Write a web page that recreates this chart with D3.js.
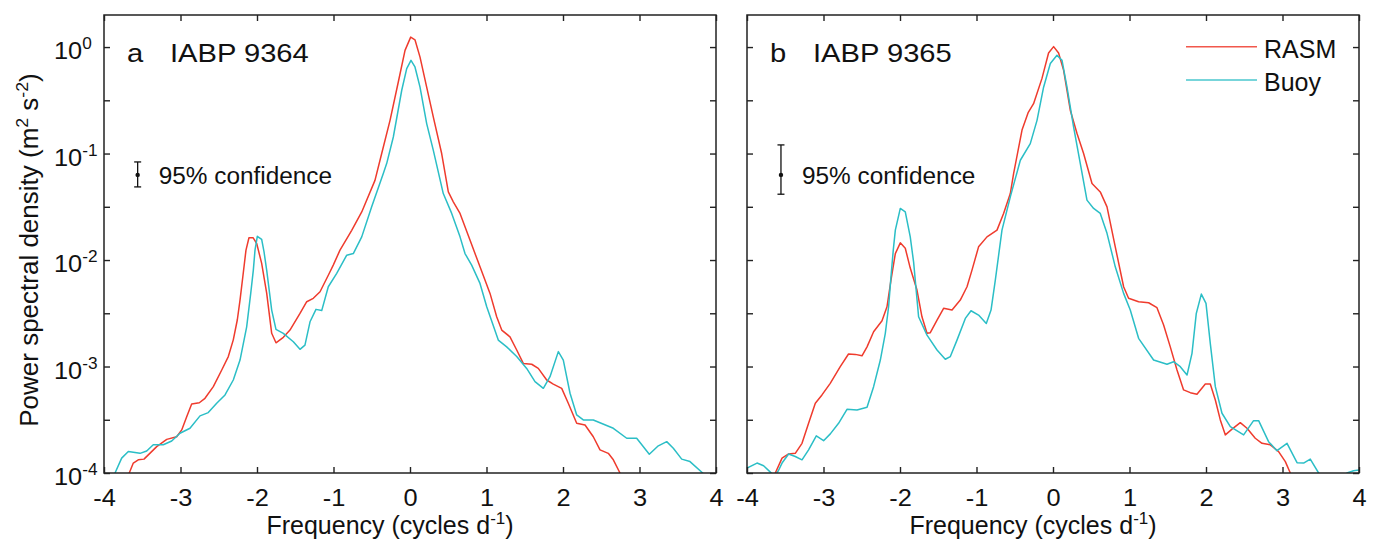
<!DOCTYPE html>
<html><head><meta charset="utf-8">
<script src="https://cdn.jsdelivr.net/npm/d3@7"></script>
<style>
body{margin:0;background:#fff}
text{font-family:"Liberation Sans",Arial,Helvetica,sans-serif;fill:#111}
</style>
</head><body>
<svg id="chart" width="1376" height="552"></svg>
<script>
// ---------------- data (frequency in cycles/day, PSD in m^2 s^-2) ----------------
const freqTicks = [-4, -3, -2, -1, 0, 1, 2, 3, 4];
const decadeExps = [0, -1, -2, -3, -4];
const psdTickValues = [1e-4, 3.162e-4, 1e-3, 3.162e-3, 1e-2, 3.162e-2, 1e-1, 3.162e-1, 1];
const seriesNames = ["RASM", "Buoy"];
const panelLetters = ["a", "b"];
const panelTitles = ["IABP 9364", "IABP 9365"];
const confidenceLabel = "95% confidence";

const rasmA = [[-3.72,9e-5],[-3.67,1.0e-4],[-3.617,1.24e-4],[-3.552,1.33e-4],[-3.477,1.35e-4],[-3.421,1.48e-4],[-3.311,1.77e-4],[-3.18,2.07e-4],[-3.05,2.19e-4],[-2.984,2.54e-4],[-2.919,3.38e-4],[-2.854,4.45e-4],[-2.754,4.57e-4],[-2.68,5.03e-4],[-2.571,6.47e-4],[-2.461,9.27e-4],[-2.375,1.24e-3],[-2.31,1.78e-3],[-2.257,2.75e-3],[-2.222,4.2e-3],[-2.183,7.2e-3],[-2.144,1.24e-2],[-2.105,1.62e-2],[-2.052,1.62e-2],[-2.004,1.43e-2],[-1.939,9.3e-3],[-1.873,4.86e-3],[-1.808,2.05e-3],[-1.752,1.67e-3],[-1.656,1.88e-3],[-1.569,2.2e-3],[-1.438,3.15e-3],[-1.35,4.06e-3],[-1.264,4.37e-3],[-1.176,5.04e-3],[-1.068,7.2e-3],[-1.003,8.96e-3],[-0.915,1.24e-2],[-0.762,1.9e-2],[-0.631,2.83e-2],[-0.458,5.6e-2],[-0.37,0.1],[-0.261,0.205],[-0.153,0.47],[-0.065,0.93],[0.009,1.24],[0.065,1.17],[0.131,0.805],[0.218,0.42],[0.305,0.22],[0.414,0.1],[0.501,4.36e-2],[0.566,3.52e-2],[0.654,2.74e-2],[0.784,1.54e-2],[0.915,8.63e-3],[1.046,4.86e-3],[1.133,2.93e-3],[1.199,2.2e-3],[1.307,1.9e-3],[1.395,1.43e-3],[1.481,1.07e-3],[1.591,1.05e-3],[1.677,9.6e-4],[1.787,7.47e-4],[1.873,6.84e-4],[1.983,6.24e-4],[2.069,4.52e-4],[2.179,2.93e-4],[2.288,2.82e-4],[2.396,2.19e-4],[2.484,1.65e-4],[2.592,1.53e-4],[2.658,1.33e-4],[2.745,1.0e-4],[2.78,8.7e-5]];

const buoyA = [[-3.88,8.7e-5],[-3.856,1.0e-4],[-3.769,1.38e-4],[-3.682,1.59e-4],[-3.529,1.53e-4],[-3.442,1.61e-4],[-3.356,1.84e-4],[-3.225,1.84e-4],[-3.115,2.0e-4],[-3.007,2.36e-4],[-2.876,2.63e-4],[-2.745,3.44e-4],[-2.637,3.69e-4],[-2.527,4.52e-4],[-2.418,5.41e-4],[-2.31,7.47e-4],[-2.222,1.15e-3],[-2.135,2.36e-3],[-2.082,4.86e-3],[-2.048,8.04e-3],[-2.026,1.24e-2],[-1.996,1.67e-2],[-1.939,1.56e-2],[-1.908,1.19e-2],[-1.873,8.0e-3],[-1.808,3.39e-3],[-1.752,2.23e-3],[-1.656,2.05e-3],[-1.525,1.71e-3],[-1.438,1.45e-3],[-1.373,1.59e-3],[-1.307,2.63e-3],[-1.229,3.44e-3],[-1.154,3.35e-3],[-1.068,5.61e-3],[-0.958,7.48e-3],[-0.827,1.11e-2],[-0.741,1.15e-2],[-0.631,1.65e-2],[-0.501,3.16e-2],[-0.349,6.49e-2],[-0.305,8.05e-2],[-0.218,0.143],[-0.108,0.393],[-0.043,0.627],[0.013,0.75],[0.065,0.65],[0.131,0.42],[0.218,0.191],[0.305,0.107],[0.435,4.21e-2],[0.545,2.74e-2],[0.654,1.65e-2],[0.719,1.15e-2],[0.806,8.96e-3],[0.915,6.03e-3],[1.003,3.64e-3],[1.154,1.77e-3],[1.264,1.53e-3],[1.395,1.24e-3],[1.525,9.6e-4],[1.634,7.2e-4],[1.743,6.24e-4],[1.83,8.02e-4],[1.939,1.38e-3],[2.004,1.15e-3],[2.092,5.61e-4],[2.179,3.51e-4],[2.265,3.15e-4],[2.396,3.15e-4],[2.658,2.63e-4],[2.833,2.12e-4],[2.963,2.12e-4],[3.128,1.5e-4],[3.246,1.8e-4],[3.356,1.97e-4],[3.442,1.71e-4],[3.552,1.35e-4],[3.66,1.28e-4],[3.826,1.0e-4],[3.87,8.7e-5]];

const rasmB = [[-3.665,8.7e-5],[-3.63,1.0e-4],[-3.542,1.38e-4],[-3.456,1.51e-4],[-3.369,1.53e-4],[-3.281,1.9e-4],[-3.195,2.93e-4],[-3.107,4.52e-4],[-3.02,5.41e-4],[-2.912,6.95e-4],[-2.781,9.96e-4],[-2.673,1.31e-3],[-2.584,1.3e-3],[-2.497,1.26e-3],[-2.431,1.53e-3],[-2.345,2.12e-3],[-2.235,2.69e-3],[-2.17,3.64e-3],[-2.118,6.47e-3],[-2.061,1.15e-2],[-1.996,1.45e-2],[-1.931,1.29e-2],[-1.866,8.4e-3],[-1.778,5.22e-3],[-1.713,2.93e-3],[-1.647,2.05e-3],[-1.604,2.08e-3],[-1.516,2.73e-3],[-1.43,3.52e-3],[-1.32,3.39e-3],[-1.212,4.21e-3],[-1.124,5.61e-3],[-1.059,8.04e-3],[-0.973,1.33e-2],[-0.863,1.65e-2],[-0.732,1.91e-2],[-0.646,2.74e-2],[-0.558,4.21e-2],[-0.515,6.49e-2],[-0.405,0.166],[-0.323,0.244],[-0.254,0.294],[-0.144,0.508],[-0.058,0.88],[0.008,1.01],[0.073,0.88],[0.139,0.604],[0.226,0.255],[0.314,0.154],[0.4,0.1],[0.51,5.23e-2],[0.618,4.36e-2],[0.706,3.16e-2],[0.814,1.33e-2],[0.923,5.61e-3],[0.988,4.37e-3],[1.119,4.06e-3],[1.25,3.97e-3],[1.359,3.57e-3],[1.446,2.45e-3],[1.533,1.53e-3],[1.621,9.27e-4],[1.707,6.03e-4],[1.795,5.68e-4],[1.882,5.48e-4],[1.991,6.85e-4],[2.056,6.85e-4],[2.122,4.85e-4],[2.187,3.15e-4],[2.253,2.28e-4],[2.34,2.58e-4],[2.448,2.97e-4],[2.536,2.63e-4],[2.644,2.12e-4],[2.732,1.9e-4],[2.84,1.84e-4],[2.949,1.59e-4],[3.037,1.28e-4],[3.102,1.0e-4],[3.14,8.7e-5]];

const buoyB = [[-4.0,1.11e-4],[-3.869,1.24e-4],[-3.783,1.17e-4],[-3.695,1.02e-4],[-3.643,9.3e-5],[-3.59,1.05e-4],[-3.542,1.24e-4],[-3.456,1.51e-4],[-3.369,1.43e-4],[-3.281,1.33e-4],[-3.195,1.65e-4],[-3.094,2.23e-4],[-2.999,2.01e-4],[-2.911,2.33e-4],[-2.803,2.93e-4],[-2.693,3.96e-4],[-2.562,3.91e-4],[-2.431,4.14e-4],[-2.345,6.47e-4],[-2.257,1.15e-3],[-2.192,2.05e-3],[-2.149,3.64e-3],[-2.118,6.95e-3],[-2.088,1.24e-2],[-2.061,1.91e-2],[-1.996,3.05e-2],[-1.931,2.83e-2],[-1.866,1.65e-2],[-1.822,9.55e-3],[-1.757,2.93e-3],[-1.647,1.97e-3],[-1.516,1.43e-3],[-1.408,1.17e-3],[-1.342,1.24e-3],[-1.255,1.77e-3],[-1.146,2.83e-3],[-1.072,3.34e-3],[-0.973,3.04e-3],[-0.872,2.54e-3],[-0.81,3.39e-3],[-0.754,6.47e-3],[-0.667,1.91e-2],[-0.558,3.92e-2],[-0.427,8.65e-2],[-0.297,0.124],[-0.209,0.205],[-0.123,0.42],[-0.035,0.70],[0.052,0.836],[0.118,0.75],[0.183,0.42],[0.269,0.178],[0.357,8.05e-2],[0.444,3.65e-2],[0.531,3.05e-2],[0.618,2.74e-2],[0.706,1.78e-2],[0.814,8.63e-3],[0.923,4.86e-3],[1.01,3.39e-3],[1.119,1.84e-3],[1.315,1.15e-3],[1.49,1.05e-3],[1.576,1.11e-3],[1.664,9.96e-4],[1.752,8.32e-4],[1.817,1.33e-3],[1.873,3.15e-3],[1.939,4.79e-3],[2.0,3.92e-3],[2.056,1.65e-3],[2.122,6.47e-4],[2.209,3.64e-4],[2.318,2.72e-4],[2.492,2.28e-4],[2.622,3.1e-4],[2.688,3.1e-4],[2.818,1.97e-4],[2.928,1.62e-4],[3.059,1.9e-4],[3.19,1.25e-4],[3.276,1.24e-4],[3.363,1.35e-4],[3.472,1.0e-4],[3.52,8.5e-5],[3.64,7e-5],[3.756,8.5e-5],[3.843,1.0e-4],[3.929,1.05e-4],[4.0,1.07e-4]];

// 95% confidence bars: [frequency, centre, lower, upper]
const confA = [-3.56, 0.063, 0.0486, 0.0834];
const confB = [-3.556, 0.063, 0.0415, 0.1205];

// ---------------- layout ----------------
const RED = "#ef3b2d", CYAN = "#2bbec6";
const plotTop = 15, plotBottom = 473;
const panels = [
  {left: 104, right: 716, rasm: rasmA, buoy: buoyA, conf: confA, letter: panelLetters[0], title: panelTitles[0], yLabels: true,  legend: false},
  {left: 747, right: 1359, rasm: rasmB, buoy: buoyB, conf: confB, letter: panelLetters[1], title: panelTitles[1], yLabels: false, legend: true}
];

const svg = d3.select("#chart");

// text with optional superscripts; sx = horizontal stretch of the original lettering
function stext(parent, x, y, anchor, size, sx, parts, extra) {
  const t = parent.append("text")
    .attr("transform", `translate(${x},${y}) ${extra || ""} scale(${sx},1)`)
    .attr("text-anchor", anchor)
    .style("font-size", size + "px");
  let shift = 0;
  parts.forEach(p => {
    const sup = typeof p !== "string";
    const txt = sup ? p.sup : p;
    const dy = sup ? -0.42 * size - shift : -shift;
    const ts = t.append("tspan").text(txt).attr("dy", dy);
    if (sup) ts.style("font-size", (size * 0.68) + "px");
    shift = sup ? -0.42 * size : 0;
  });
  return t;
}

panels.forEach((p, i) => {
  const x = d3.scaleLinear().domain([-4, 4]).range([p.left, p.right]);
  const y = d3.scaleLog().domain([1e-4, 2]).range([plotBottom, plotTop]);
  const g = svg.append("g");
  const clipId = "clip" + i;
  svg.append("clipPath").attr("id", clipId).append("rect")
    .attr("x", p.left).attr("y", plotTop).attr("width", p.right - p.left).attr("height", plotBottom - plotTop);

  const line = d3.line().x(d => x(d[0])).y(d => y(d[1]));
  g.append("path").datum(p.rasm).attr("d", line).attr("clip-path", `url(#${clipId})`)
    .attr("fill", "none").attr("stroke", RED).attr("stroke-width", 1.5).attr("stroke-linejoin", "round");
  g.append("path").datum(p.buoy).attr("d", line).attr("clip-path", `url(#${clipId})`)
    .attr("fill", "none").attr("stroke", CYAN).attr("stroke-width", 1.5).attr("stroke-linejoin", "round");

  // axes (inward ticks)
  const axStyle = sel => { sel.select(".domain").remove(); sel.selectAll("line").attr("stroke", "#222").attr("stroke-width", 1.4); };
  const xb = g.append("g").attr("transform", `translate(0,${plotBottom})`)
    .call(d3.axisBottom(x).tickValues(freqTicks).tickSize(-6).tickSizeOuter(0).tickPadding(16).tickFormat(d => String(d)));
  axStyle(xb);
  xb.selectAll("text").attr("fill", "#111").style("font-size", "23.5px")
    .style("font-family", '"Liberation Sans",Arial,sans-serif').attr("transform", "scale(1.08,1)");
  const xt = g.append("g").attr("transform", `translate(0,${plotTop})`)
    .call(d3.axisTop(x).tickValues(freqTicks).tickSize(-6).tickSizeOuter(0).tickFormat(""));
  axStyle(xt);
  const yl = g.append("g").attr("transform", `translate(${p.left},0)`)
    .call(d3.axisLeft(y).tickValues(psdTickValues).tickSize(-6).tickSizeOuter(0).tickFormat(""));
  axStyle(yl);
  const yr = g.append("g").attr("transform", `translate(${p.right},0)`)
    .call(d3.axisRight(y).tickValues(psdTickValues).tickSize(-6).tickSizeOuter(0).tickFormat(""));
  axStyle(yr);

  g.append("rect").attr("x", p.left).attr("y", plotTop).attr("width", p.right - p.left).attr("height", plotBottom - plotTop)
    .attr("fill", "none").attr("stroke", "#222").attr("stroke-width", 1.5);

  if (p.yLabels) {
    decadeExps.forEach(e => {
      stext(g, 54, y(Math.pow(10, e)) + 12, "start", 23.5, 1.08, ["10", {sup: String(e)}]);
    });
  }

  // panel title
  stext(g, p.left + 23, 62, "start", 26.5, 1.1, [p.letter]);
  stext(g, p.left + 66, 62, "start", 26.5, 1.1, [p.title]);

  // confidence bar
  const cx = x(p.conf[0]);
  const cb = g.append("g").attr("stroke", "#111").attr("stroke-width", 1.3);
  cb.append("line").attr("x1", cx).attr("x2", cx).attr("y1", y(p.conf[2])).attr("y2", y(p.conf[3]));
  cb.append("line").attr("x1", cx - 3.5).attr("x2", cx + 3.5).attr("y1", y(p.conf[2])).attr("y2", y(p.conf[2]));
  cb.append("line").attr("x1", cx - 3.5).attr("x2", cx + 3.5).attr("y1", y(p.conf[3])).attr("y2", y(p.conf[3]));
  g.append("circle").attr("cx", cx).attr("cy", y(p.conf[1])).attr("r", 2.2).attr("fill", "#111");
  stext(g, cx + 21, 184, "start", 23, 1.06, [confidenceLabel]);

  // x-axis title
  stext(g, (p.left + p.right) / 2 - 20, 534, "middle", 25, 1.0, ["Frequency (cycles d", {sup: "-1"}, ")"]);

  if (p.legend) {
    const colors = [RED, CYAN];
    seriesNames.forEach((n, k) => {
      const ly = 46.7 + k * 33.3;
      g.append("line").attr("x1", 1186).attr("x2", 1257).attr("y1", ly).attr("y2", ly)
        .attr("stroke", colors[k]).attr("stroke-width", 1.6).attr("opacity", 0.85);
      stext(g, 1264, ly + 10.8, "start", 25, 1.0, [n]);
    });
  }
});

// y-axis title
stext(svg, 38, 250, "middle", 25, 1.04,
  ["Power spectral density (m", {sup: "2"}, " s", {sup: "-2"}, ")"], "rotate(-90)");
</script>
</body></html>
